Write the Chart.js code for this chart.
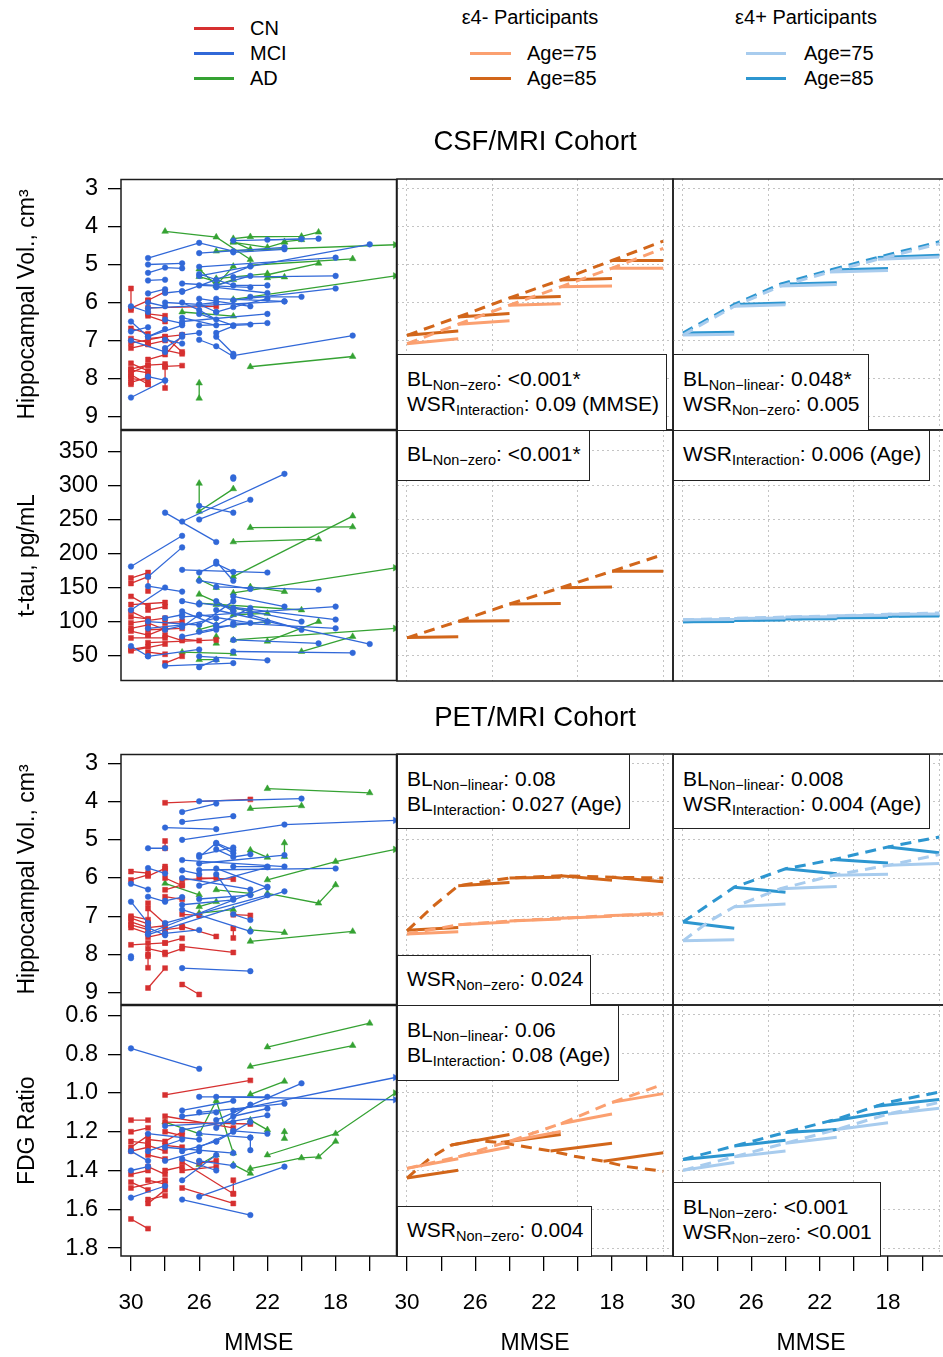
<!DOCTYPE html>
<html><head><meta charset="utf-8">
<script src="https://cdn.jsdelivr.net/npm/chart.js@4.4.1/dist/chart.umd.min.js"></script>
<style>
html,body{margin:0;padding:0;background:#fff;}
body{width:943px;height:1357px;position:relative;overflow:hidden;font-family:'Liberation Sans',Arial,Helvetica,sans-serif;color:#000;}
canvas{position:absolute;}
.t{position:absolute;white-space:nowrap;}
.box{position:absolute;background:#fff;border:1.5px solid #222;box-sizing:border-box;z-index:5;}
.ln{position:absolute;left:9px;font-size:21px;line-height:25px;white-space:nowrap;}
.ln span{font-size:14.5px;position:relative;top:4px;}
.leg{position:absolute;height:3px;}
</style></head><body>
<script>
// ---------------- data ----------------
const HIPPO_TICKS = [3,4,5,6,7,8,9];
const TAU_TICKS = [50,100,150,200,250,300,350];
const FDG_TICKS = [0.6,0.8,1.0,1.2,1.4,1.6,1.8];
const MMSE_TICKS = [30,28,26,24,22,20,18,16];
const MMSE_LABELED = [30,26,22,18];
const MMSE_GRID = [30,25,20,15];

// CSF/MRI cohort: hippocampal volume, individual trajectories [mmse, value, ...]
const CSF_HIPPO_CN = [
 [30,5.63, 30,6.2],[30,6.15, 29,5.95],[29,5.94, 28,5.72],[29,6.14, 25,6.1],
 [30,6.68, 29,6.82],[30,7.07, 28,6.9],[30,7.77, 29,7.85],[30,8.1, 29,7.97],
 [28,7.25, 27,7.35],[28,7.68, 27,7.66],[28,8.25, 28,7.7],[29,7.5, 28,7.37, 27,6.87],
 [30,7.9, 29,8.15],[29,7.1, 28,7.0],[30,6.95, 29,7.05],[29,6.35, 28,6.5],
 [30,7.85, 29,7.65, 28,7.62],[30,8.0, 29,8.05],[29,6.95, 27,6.85],
 [30,7.75, 29,7.65],[30,8.15, 30,7.95],[29,7.95, 29,8.15],[30,7.2, 29,7.1],
 [28,6.9, 27,7.3],[29,6.3, 28,6.35],[30,7.6, 29,7.8]
];
const CSF_HIPPO_MCI = [
 [30,8.5, 28,8.05],[29,4.83, 26,4.43, 24,4.65],[29,5.0, 27,4.97],[29,5.22, 28,5.08, 27,5.1],
 [29,5.42, 28,5.4],[29,5.76, 28,5.65],[30,6.5, 29,6.9, 28,6.7],[30,6.76, 29,6.65],
 [26,4.7, 21,4.55],[24,4.37, 19,4.32],[25,5.9, 21,5.97],[24,5.94, 18,5.63],
 [24,5.33, 18,5.3],[26,5.06, 18,4.82],[24,7.4, 17,6.87],[26,6.98, 25,7.15, 24,7.42],
 [27,6.5, 22,6.3],[26,6.6, 22,6.54],[29,7.95, 28,8.05],[28,6.98, 27,7.08],
 [29,6.15, 21,5.97],[26,5.55, 23,5.6],[27,5.72, 25,5.4, 23,5.05],[28,6.0, 26,6.05, 25,6.0],
 [25,6.25, 24,6.12, 22,5.9],[26,6.3, 24,6.6, 23,6.58],[28,6.45, 27,6.55],[30,7.0, 28,7.3],
 [25,6.8, 24,6.62],[24,4.68, 21,4.6],[22,4.35, 20,4.33],[26,5.3, 16,4.47],[27,6.0, 26,6.2, 25,6.45],
 [27,5.5, 25,5.55, 23,5.3],[26,5.25, 24,5.55, 22,5.55],[27,6.85, 26,6.8],[28,7.2, 27,6.9],
 [29,6.9, 27,6.6],[26,6.05, 25,6.25],[25,6.9, 24,7.35],[23,5.85, 20,5.85],[25,5.6, 22,5.75],
 [27,6.4, 25,6.6],[29,6.0, 28,6.1],[30,6.1, 29,6.25],[26,5.9, 23,6.1],[28,5.75, 27,5.7]
];
const CSF_HIPPO_AD = [
 [28,4.13, 25,4.28, 23,4.87],[25,4.65, 14.5,4.48],[24,4.32, 23,4.27, 20,4.26, 19,4.15],
 [24,5.92, 14.5,5.3],[23,5.02, 17,4.85],[22,5.27, 19,4.97],[23,7.69, 17,7.42],
 [26,8.12, 26,8.52],[27,6.25, 24,6.36],[25,5.37, 22,5.24],[22,5.35, 21,5.33],
 [26,5.12, 25,5.55, 24,5.05],[26,5.32, 25,5.45],[24,4.42, 22,4.55, 21,4.42],
 [25,5.55, 24,5.4],[24,4.4, 23,4.6],[21,4.4, 20,4.35]
];

// CSF/MRI cohort: t-tau
const CSF_TAU_CN = [
 [30,164, 29,172, 29,145],[30,156, 29,166],[30,137, 29,123],[30,125, 28,128],
 [30,107, 29,104],[30,98, 28,105],[30,76, 28,76],[30,59, 29,63],[30,57, 28,67],
 [29,88, 27,90],[28,39, 27,49],[29,69, 25,73],[28,98, 27,100],[29,117, 28,122],
 [30,86, 29,80],[29,55, 28,52],[27,74, 26,72],
 [30,115, 29,103],[29,98, 28,88],[30,90, 29,95],[28,80, 27,72],[29,80, 28,90]
];
const CSF_TAU_MCI = [
 [30,181, 27,226],[29,166, 27,209],[28,260, 25,217],[27,247, 21,317],[26,250, 23,279],
 [26,270, 24,260],[24,312, 24,310],[27,176, 22,172],[25,188, 24,160],[29,152, 27,144],
 [30,117, 28,150],[30,64, 29,49],[29,49, 26,59],[28,35, 24,39],[26,33, 25,44],
 [27,107, 18,122],[26,127, 18,103],[25,117, 16,67],[24,98, 18,90],[24,56, 17,54],
 [26,49, 22,43],[25,151, 19,147],[24,137, 21,122],[26,160, 23,148],[27,78, 25,88],
 [24,73, 19,68],[28,88, 25,105],[26,172, 25,185, 24,173],[27,115, 25,95, 23,120],
 [29,100, 26,95, 24,130],
 [27,130, 26,125],[25,130, 24,115],[26,110, 23,98],[25,92, 22,100],[27,92, 26,110],
 [28,105, 27,110],[29,90, 27,95],[24,120, 20,100],[23,110, 20,88],[26,85, 24,95]
];
const CSF_TAU_AD = [
 [26,303, 26,262, 24,295],[23,238, 17,239],[24,166, 17,255],[24,217, 19,221],
 [24,142, 14.5,179],[26,127, 20,117],[24,73, 14.5,90],[20,56, 17,78],[22,71, 19,100],
 [27,55, 24,53],[26,44, 25,44],[26,162, 25,150],[23,151, 21,144],[25,68, 25,78],
 [24,110, 22,112],[26,140, 24,118],
 [24,95, 22,100],[25,125, 23,115],[26,88, 25,95]
];

// PET/MRI cohort: hippocampal volume
const PET_HIPPO_CN = [
 [28,4.03, 23,3.94],[28,5.03, 28,5.22],[30,5.83, 29,5.87],[30,6.05, 29,5.92],[29,5.95, 28,5.75],
 [28,5.7, 28,5.82],[29,6.66, 29,7.18],[30,7.0, 29,7.09],[30,7.23, 29,7.35],[30,7.75, 28,7.7],
 [29,8.05, 29,8.35],[29,8.88, 28,8.36],[27,8.79, 26,9.05],[27,7.79, 24,7.95],[27,7.27, 25,7.53],
 [24,6.96, 23,6.98],[24,7.57, 24,7.32],[28,7.7, 27,7.58],[27,6.05, 25,6.0],[26,6.0, 24,6.03],
 [28,6.31, 27,6.18],[28,6.49, 27,6.56],[30,7.15, 29,7.3, 28,7.25],[29,7.85, 28,7.95],
 [29,6.8, 28,7.2],[28,8.0, 27,7.85],
 [30,7.05, 29,7.2],[29,7.55, 28,7.45],[29,7.7, 29,8.0],[28,7.35, 27,7.3],[30,7.3, 29,7.45],
 [28,6.0, 27,6.2],[27,6.95, 26,6.98]
];
const PET_HIPPO_MCI = [
 [26,3.99, 20,3.92],[27,4.27, 25,4.05],[27,4.53, 24,4.38],[28,4.68, 25,4.72],
 [27,5.0, 21,4.6, 14.5,4.49],[26,5.45, 25,5.08, 24,5.27],[26,5.62, 21,5.4],[29,5.22, 28,5.22],
 [27,5.53, 21,5.7],[26,5.79, 18,5.75],[29,5.74, 28,5.88],[29,7.44, 22,6.23],[29,7.48, 21,6.35],
 [28,7.18, 22,6.45],[27,6.7, 24,6.57],[27,6.83, 23,7.4],[27,8.36, 23,8.44],[30,8.05, 30,8.1],
 [30,6.62, 29,7.18],[29,6.49, 28,6.62],[26,7.36, 28,7.45],[24,6.95, 23,7.1],
 [25,5.25, 24,5.45, 23,5.38],[26,6.2, 22,5.72],[30,6.15, 29,6.3],[25,5.9, 24,6.55],
 [25,5.1, 24,5.35],[26,5.4, 24,5.2],[25,5.75, 22,6.25],[27,6.0, 23,6.3],[28,6.6, 27,6.5],
 [26,6.55, 23,6.45],[24,5.7, 22,5.7],[29,7.3, 28,7.5],[27,5.8, 26,5.9]
];
const PET_HIPPO_AD = [
 [22,3.66, 16,3.77],[23,4.18, 20,4.11],[21,5.08, 21,5.44],[23,5.27, 22,5.46],
 [22,6.05, 18,5.57, 14.5,5.25],[22,6.4, 19,6.66, 18,6.18],[23,7.36, 21,7.43],[23,7.66, 17,7.4],
 [28,6.14, 26,6.44],[25,6.31, 23,6.4],[26,6.75, 25,6.62],[26,6.92, 24,6.83]
];

// PET/MRI cohort: FDG ratio
const PET_FDG_CN = [
 [28,1.01, 23,0.935],[30,1.65, 29,1.70],[30,1.14, 29,1.14],[30,1.20, 29,1.18],[30,1.30, 29,1.28],
 [30,1.42, 29,1.40],[30,1.49, 28,1.45],[29,1.55, 28,1.53],[28,1.12, 24,1.18],[28,1.15, 23,1.16],
 [27,1.355, 24,1.52],[27,1.49, 24,1.57],[27,1.40, 25,1.38],[24,1.45, 24,1.52],[28,1.27, 27,1.28],
 [29,1.32, 28,1.34],[26,1.36, 25,1.35],[29,1.24, 28,1.25, 27,1.20],[30,1.25, 29,1.26],
 [29,1.45, 28,1.47],[29,1.57, 28,1.50],
 [30,1.28, 29,1.22],[29,1.38, 28,1.42],[30,1.46, 29,1.5],[28,1.40, 27,1.38],[29,1.27, 28,1.30],
 [28,1.2, 27,1.22]
];
const PET_FDG_MCI = [
 [30,0.77, 26,0.875],[30,1.30, 29,1.35],[30,1.40, 29,1.38],[30,1.54, 28,1.48],[26,1.02, 22,1.02],
 [25,1.02, 14.5,1.035],[27,1.09, 24,1.04],[27,1.55, 23,1.63],[26,1.535, 21,1.38],[26,1.10, 21,1.055],
 [25,1.14, 20,0.95],[24,1.09, 14.5,0.92],[27,1.19, 22,1.115],[26,1.21, 23,1.23],[29,1.21, 26,1.24],
 [28,1.28, 24,1.31],[26,1.35, 24,1.375],[24,1.195, 22,1.21],[23,1.295, 23,1.23],[27,1.45, 25,1.32],
 [29,1.30, 27,1.24],[25,1.18, 23,1.06],[28,1.17, 24,1.15],
 [27,1.3, 25,1.25],[26,1.28, 24,1.2],[25,1.25, 23,1.15],[27,1.12, 25,1.10],[28,1.35, 26,1.3],
 [24,1.12, 22,1.08],[27,1.34, 25,1.40]
];
const PET_FDG_AD = [
 [22,0.763, 16,0.64],[23,0.863, 17,0.755],[23,1.007, 21,0.94],[22,1.32, 18,1.21, 14.5,1.0],
 [21,1.20, 21,1.235],[23,1.14, 22,1.19],[28,1.15, 26,1.21, 25,1.04, 24,1.31],
 [23,1.39, 20,1.335, 19,1.33, 18,1.25],[23,1.415, 24,1.37],[25,1.32, 26,1.37]
];

// Model predictions: dashed (between-subject) curve and solid (within-subject) segments [x0,y0,x1,y1]
const R1C2_A75_DASH = [30,7.08, 27,6.57, 24,6.07, 21,5.59, 18,5.10, 15,4.58];
const R1C2_A75_SEG  = [[30,7.08,27,6.95],[27,6.57,24,6.48],[24,6.07,21,6.03],[21,5.59,18,5.57],[18,5.10,15,5.10]];
const R1C2_A85_DASH = [30,6.86, 27,6.38, 24,5.88, 21,5.41, 18,4.90, 15,4.39];
const R1C2_A85_SEG  = [[30,6.86,27,6.75],[27,6.38,24,6.29],[24,5.88,21,5.84],[21,5.41,18,5.37],[18,4.90,15,4.90]];

const R1C3_A75_DASH = [30,6.85, 27,6.10, 24.3,5.57, 21.4,5.20, 18.6,4.87, 15,4.46];
const R1C3_A75_SEG  = [[30,6.85,27,6.83],[27,6.10,24,6.06],[24.3,5.57,21,5.53],[21.4,5.20,18,5.16],[18.6,4.87,15,4.81]];
const R1C3_A85_DASH = [30,6.80, 27,6.05, 24.3,5.52, 21.4,5.15, 18.6,4.82, 15,4.41];
const R1C3_A85_SEG  = [[30,6.80,27,6.78],[27,6.05,24,6.01],[24.3,5.52,21,5.48],[21.4,5.15,18,5.11],[18.6,4.82,15,4.76]];

const R2C2_A85_DASH = [30,76.5, 27,100.7, 24,126, 21,150, 18,174, 15,198.5];
const R2C2_A85_SEG  = [[30,77,27,78],[27,100.7,24,101.7],[24,126,21,127],[21,150,18,151],[18,174,15,174]];

const R2C3_A75_DASH = [30,103, 27,105, 24,107, 21,109, 18,111, 15,113];
const R2C3_A75_SEG  = [[30,103,27,103.5],[27,105,24,105.5],[24,107,21,107.5],[21,109,18,109.5],[18,111,15,111.5]];
const R2C3_A85_DASH = [30,100, 27,102, 24,104, 21,106, 18,108, 15,110];
const R2C3_A85_SEG  = [[30,100,27,100.5],[27,102,24,102.5],[24,104,21,104.5],[21,106,18,106.5],[18,108,15,108.5]];

const R3C2_A75_DASH = [30,7.46, 27,7.22, 24,7.12, 21,7.05, 18,6.98, 15,6.92];
const R3C2_A75_SEG  = [[30,7.46,27,7.40],[27,7.22,24,7.15],[24,7.12,21,7.07],[21,7.05,18,7.00],[18,6.98,15,6.94]];
const R3C2_A85_DASH = [30,7.38, 28.5,6.75, 27,6.20, 24,6.00, 21,5.94, 18,5.98, 15,6.00];
const R3C2_A85_SEG  = [[30,7.36,27,7.29],[27,6.20,24,6.12],[24,6.00,21,5.98],[21,5.94,18,6.06],[18,5.98,15,6.10]];

const R3C3_A75_DASH = [30,7.64, 28.4,7.11, 27,6.75, 24.3,6.28, 21.2,5.93, 18,5.67, 15,5.39];
const R3C3_A75_SEG  = [[30,7.64,27,7.61],[27,6.75,24,6.68],[24.3,6.28,21,6.22],[21.2,5.93,18,5.90],[18,5.67,15,5.62]];
const R3C3_A85_DASH = [30,7.15, 27,6.24, 24,5.76, 21.2,5.52, 18,5.19, 15,4.93];
const R3C3_A85_SEG  = [[30,7.15,27,7.31],[27,6.24,24,6.37],[24,5.76,21,5.89],[21.2,5.52,18,5.61],[18,5.19,15,5.34]];

const R4C2_A75_DASH = [30,1.39, 27,1.33, 24,1.25, 21,1.16, 18,1.05, 15,0.957];
const R4C2_A75_SEG  = [[30,1.39,27,1.34],[27,1.33,24,1.28],[24,1.25,21,1.20],[21,1.16,18,1.11],[18,1.05,15,1.005]];
const R4C2_A85_DASH = [30,1.44, 28.7,1.34, 27.4,1.27, 26,1.245, 24.5,1.257, 23,1.28, 21.6,1.30, 20.2,1.327, 18.5,1.353, 17.2,1.38, 15,1.405];
const R4C2_A85_SEG  = [[30,1.44,27,1.40],[27.4,1.27,24,1.215],[24.5,1.257,21,1.215],[21.6,1.30,18,1.26],[18.5,1.353,15,1.31]];

const R4C3_A75_DASH = [30,1.40, 27,1.33, 24,1.26, 21,1.19, 18,1.11, 15,1.05];
const R4C3_A75_SEG  = [[30,1.40,27,1.36],[27,1.33,24,1.30],[24,1.26,21,1.23],[21,1.19,18,1.155],[18,1.11,15,1.08]];
const R4C3_A85_DASH = [30,1.344, 27,1.275, 24,1.205, 21,1.136, 18,1.05, 15,0.997];
const R4C3_A85_SEG  = [[30,1.344,27,1.318],[27,1.275,24,1.245],[24,1.205,21,1.19],[21.5,1.148,18,1.10],[18.7,1.07,15,1.035]];

// ---------------- styling / layout ----------------
const FONT = "'Liberation Sans', Arial, Helvetica, sans-serif";
const GROUP_COLORS = {CN:'#D63030', MCI:'#3168D8', AD:'#35A233'};
const GROUP_STYLE = {CN:'rect', MCI:'circle', AD:'triangle'};
const GROUP_RADIUS = {CN:3.5, MCI:2.8, AD:3.8};
const AGE_COLORS = {neg75:'#FBA070', neg85:'#D2661A', pos75:'#A8CCEE', pos85:'#2D96D0'};
const GRID_COLOR = '#C4C4C4';
const PAGE_H = 1357, PANEL_W = 276, PANEL_H = 251, PAD = 4;
const COL_X = [121, 397, 673];
const ROW_Y = [179, 430, 754, 1005];
const X_RANGE = {min:14.43, max:30.585};
const Y_AXES = [
  {min:2.764, max:9.341, reverse:true, ticks:HIPPO_TICKS, title:'Hippocampal Vol., cm³', dec:0},
  {min:13.41, max:380.73, reverse:false, ticks:TAU_TICKS, title:'t-tau, pg/mL', dec:0},
  {min:2.765, max:9.313, reverse:true, ticks:HIPPO_TICKS, title:'Hippocampal Vol., cm³', dec:0},
  {min:0.5485, max:1.8412, reverse:true, ticks:FDG_TICKS, title:'FDG Ratio', dec:1}
];

function pairs(a){const o=[];for(let i=0;i<a.length;i+=2)o.push({x:a[i],y:a[i+1]});return o;}
const isArrow = ctx => ctx.raw && ctx.raw.x < 14.6;

function spagSets(groups){
  const out=[];
  ['MCI','CN','AD'].forEach(g=>{
    const col = GROUP_COLORS[g];
    groups[g].forEach(tr=>{
      out.push({data:pairs(tr), xAxisID:'x', yAxisID:'y', borderColor:col, backgroundColor:col,
        borderWidth:1.3, tension:0,
        pointRadius: ctx => isArrow(ctx) ? 3.8 : GROUP_RADIUS[g],
        pointStyle: ctx => isArrow(ctx) ? 'triangle' : GROUP_STYLE[g],
        pointRotation: ctx => isArrow(ctx) ? 90 : 0,
        pointBackgroundColor:col, pointBorderColor:col, pointBorderWidth:0.5});
    });
  });
  return out;
}
function modelSets(list){
  const out=[];
  list.forEach(([dash, segs, key])=>{
    const col = AGE_COLORS[key];
    out.push({data:pairs(dash), xAxisID:'x', yAxisID:'y', borderColor:col, borderWidth:3,
      borderDash:[11,7], pointRadius:0, tension:0});
    const sd=[]; segs.forEach(s=>{sd.push({x:s[0],y:s[1]},{x:s[2],y:s[3]},{x:s[2],y:null});});
    out.push({data:sd, xAxisID:'x', yAxisID:'y', borderColor:col, borderWidth:3,
      pointRadius:0, tension:0, spanGaps:false});
  });
  return out;
}

const PANELS = [
  {r:0,c:0, sets:()=>spagSets({CN:CSF_HIPPO_CN, MCI:CSF_HIPPO_MCI, AD:CSF_HIPPO_AD})},
  {r:0,c:1, sets:()=>modelSets([[R1C2_A75_DASH,R1C2_A75_SEG,'neg75'],[R1C2_A85_DASH,R1C2_A85_SEG,'neg85']])},
  {r:0,c:2, sets:()=>modelSets([[R1C3_A75_DASH,R1C3_A75_SEG,'pos75'],[R1C3_A85_DASH,R1C3_A85_SEG,'pos85']])},
  {r:1,c:0, sets:()=>spagSets({CN:CSF_TAU_CN, MCI:CSF_TAU_MCI, AD:CSF_TAU_AD})},
  {r:1,c:1, sets:()=>modelSets([[R2C2_A85_DASH,R2C2_A85_SEG,'neg85']])},
  {r:1,c:2, sets:()=>modelSets([[R2C3_A75_DASH,R2C3_A75_SEG,'pos75'],[R2C3_A85_DASH,R2C3_A85_SEG,'pos85']])},
  {r:2,c:0, sets:()=>spagSets({CN:PET_HIPPO_CN, MCI:PET_HIPPO_MCI, AD:PET_HIPPO_AD})},
  {r:2,c:1, sets:()=>modelSets([[R3C2_A75_DASH,R3C2_A75_SEG,'neg75'],[R3C2_A85_DASH,R3C2_A85_SEG,'neg85']])},
  {r:2,c:2, sets:()=>modelSets([[R3C3_A75_DASH,R3C3_A75_SEG,'pos75'],[R3C3_A85_DASH,R3C3_A85_SEG,'pos85']])},
  {r:3,c:0, sets:()=>spagSets({CN:PET_FDG_CN, MCI:PET_FDG_MCI, AD:PET_FDG_AD})},
  {r:3,c:1, sets:()=>modelSets([[R4C2_A75_DASH,R4C2_A75_SEG,'neg75'],[R4C2_A85_DASH,R4C2_A85_SEG,'neg85']])},
  {r:3,c:2, sets:()=>modelSets([[R4C3_A75_DASH,R4C3_A75_SEG,'pos75'],[R4C3_A85_DASH,R4C3_A85_SEG,'pos85']])}
];

const framePlugin = {id:'frame', afterDatasetsDraw(chart){
  const {ctx, chartArea:a} = chart; ctx.save(); ctx.strokeStyle='#1c1c1c'; ctx.lineWidth=1.5;
  ctx.strokeRect(a.left, a.top, a.right-a.left, a.bottom-a.top); ctx.restore();}};
function zeroPad(s){s.paddingLeft=0;s.paddingRight=0;s.paddingTop=0;s.paddingBottom=0;}

function buildPanel(p){
  const {r,c} = p, isLeft = c===0, isBottom = r===3, ya = Y_AXES[r];
  const left = isLeft ? 0 : COL_X[c]-PAD, top = ROW_Y[r]-PAD;
  const right = COL_X[c]+PANEL_W+PAD, bottom = isBottom ? PAGE_H : ROW_Y[r]+PANEL_H+PAD;
  const cv = document.createElement('canvas');
  cv.width = right-left; cv.height = bottom-top;
  cv.style.left = left+'px'; cv.style.top = top+'px';
  cv.style.width = (right-left)+'px'; cv.style.height = (bottom-top)+'px';
  document.body.appendChild(cv);
  const scales = {
    x: {type:'linear', axis:'x', position:'bottom', min:X_RANGE.min, max:X_RANGE.max, reverse:true,
      afterBuildTicks: s=>{s.ticks = MMSE_GRID.map(v=>({value:v}));},
      afterFit: s=>{s.height=0; zeroPad(s);},
      ticks:{display:false},
      grid:{display:!isLeft, drawOnChartArea:true, drawTicks:false, color:GRID_COLOR, lineWidth:1},
      border:{display:false, dash:[2,3]}},
    y: {type:'linear', axis:'y', position:'left', min:ya.min, max:ya.max, reverse:ya.reverse,
      afterBuildTicks: s=>{s.ticks = ya.ticks.map(v=>({value:v}));},
      afterFit: s=>{s.width = isLeft ? 121 : 0; zeroPad(s);},
      ticks:{display:isLeft, autoSkip:false, color:'#000', padding:10, font:{family:FONT, size:23.5},
        callback: v => Number(v).toFixed(ya.dec)},
      grid: isLeft ? {display:true, drawOnChartArea:false, drawTicks:true, tickLength:13, color:'#000', lineWidth:1.3}
                   : {display:true, drawOnChartArea:true, drawTicks:false, color:GRID_COLOR, lineWidth:1},
      border:{display:false, dash: isLeft ? [] : [2,3]},
      title:{display:isLeft, text:ya.title, color:'#000', font:{family:FONT, size:23}, padding:{top:14, bottom:0}}}
  };
  if (isBottom) {
    scales.x2 = {type:'linear', axis:'x', position:'bottom', min:X_RANGE.min, max:X_RANGE.max, reverse:true,
      afterBuildTicks: s=>{s.ticks = MMSE_TICKS.map(v=>({value:v}));},
      afterFit: s=>{s.height = PAGE_H-(ROW_Y[3]+PANEL_H); zeroPad(s);},
      ticks:{autoSkip:false, maxRotation:0, color:'#000', padding:18, font:{family:FONT, size:22.5},
        callback: v => MMSE_LABELED.includes(v) ? String(v) : ''},
      grid:{display:true, drawOnChartArea:false, drawTicks:true, tickLength:15, color:'#000', lineWidth:1.3},
      border:{display:false},
      title:{display:true, text:'MMSE', color:'#000', font:{family:FONT, size:23}, padding:{top:0, bottom:0}}};
  }
  new Chart(cv, {type:'line', data:{datasets:p.sets()},
    options:{responsive:false, animation:false, events:[], devicePixelRatio:1,
      layout:{padding:{left:isLeft?0:PAD, top:PAD, right:PAD, bottom:isBottom?0:PAD}},
      plugins:{legend:{display:false}, tooltip:{enabled:false}},
      scales},
    plugins:[framePlugin]});
}
PANELS.forEach(buildPanel);

// ---------------- annotations / legend / titles (HTML text) ----------------
const BOXES = [
  {x:397,y:354,w:270,h:77, lines:[['BL','Non−zero',': <0.001*'],['WSR','Interaction',': 0.09 (MMSE)']]},
  {x:673,y:354,w:196,h:77, lines:[['BL','Non−linear',': 0.048*'],['WSR','Non−zero',': 0.005']]},
  {x:397,y:430,w:193,h:51, lines:[['BL','Non−zero',': <0.001*']]},
  {x:673,y:430,w:257,h:51, lines:[['WSR','Interaction',': 0.006 (Age)']]},
  {x:397,y:754,w:233,h:75, lines:[['BL','Non−linear',': 0.08'],['BL','Interaction',': 0.027 (Age)']]},
  {x:397,y:955,w:194,h:51, lines:[['WSR','Non−zero',': 0.024']]},
  {x:673,y:754,w:257,h:75, lines:[['BL','Non−linear',': 0.008'],['WSR','Interaction',': 0.004 (Age)']]},
  {x:397,y:1005,w:222,h:76, lines:[['BL','Non−linear',': 0.06'],['BL','Interaction',': 0.08 (Age)']]},
  {x:397,y:1206,w:195,h:51, lines:[['WSR','Non−zero',': 0.004']]},
  {x:673,y:1182,w:208,h:75, lines:[['BL','Non−zero',': <0.001'],['WSR','Non−zero',': <0.001']]}
];
BOXES.forEach(b=>{
  const d=document.createElement('div'); d.className='box';
  d.style.left=b.x+'px'; d.style.top=b.y+'px'; d.style.width=b.w+'px'; d.style.height=b.h+'px';
  b.lines.forEach((l,i)=>{
    const ln=document.createElement('div'); ln.className='ln';
    ln.style.top=(b.lines.length===1?10:11+25*i)+'px';
    ln.appendChild(document.createTextNode(l[0]));
    const s=document.createElement('span'); s.textContent=l[1]; ln.appendChild(s);
    ln.appendChild(document.createTextNode(l[2]));
    d.appendChild(ln);
  });
  document.body.appendChild(d);
});

function addText(txt, x, yc, size, center){
  const d=document.createElement('div'); d.className='t'; d.textContent=txt;
  d.style.fontSize=size+'px'; d.style.lineHeight=(size+4)+'px';
  d.style.top=(yc-(size+4)/2)+'px';
  if(center){d.style.left=x+'px'; d.style.transform='translateX(-50%)';} else d.style.left=x+'px';
  document.body.appendChild(d);
}
function addLine(x1,x2,yc,col){
  const d=document.createElement('div'); d.className='leg';
  d.style.left=x1+'px'; d.style.width=(x2-x1)+'px'; d.style.top=(yc-1.5)+'px'; d.style.background=col;
  document.body.appendChild(d);
}
const LEGEND_GROUPS = [['CN',GROUP_COLORS.CN],['MCI',GROUP_COLORS.MCI],['AD',GROUP_COLORS.AD]];
LEGEND_GROUPS.forEach((g,i)=>{addLine(194,234,28+25*i,g[1]); addText(g[0],250,28+25*i,20,false);});
addText('ε4- Participants',530,17,20,true);
addLine(470,511,53,AGE_COLORS.neg75); addText('Age=75',527,53,20,false);
addLine(470,511,78,AGE_COLORS.neg85); addText('Age=85',527,78,20,false);
addText('ε4+ Participants',806,17,20,true);
addLine(746,786,53,AGE_COLORS.pos75); addText('Age=75',804,53,20,false);
addLine(746,786,78,AGE_COLORS.pos85); addText('Age=85',804,78,20,false);
addText('CSF/MRI Cohort',535,141,27.5,true);
addText('PET/MRI Cohort',535,717,27.5,true);
</script>
</body></html>
